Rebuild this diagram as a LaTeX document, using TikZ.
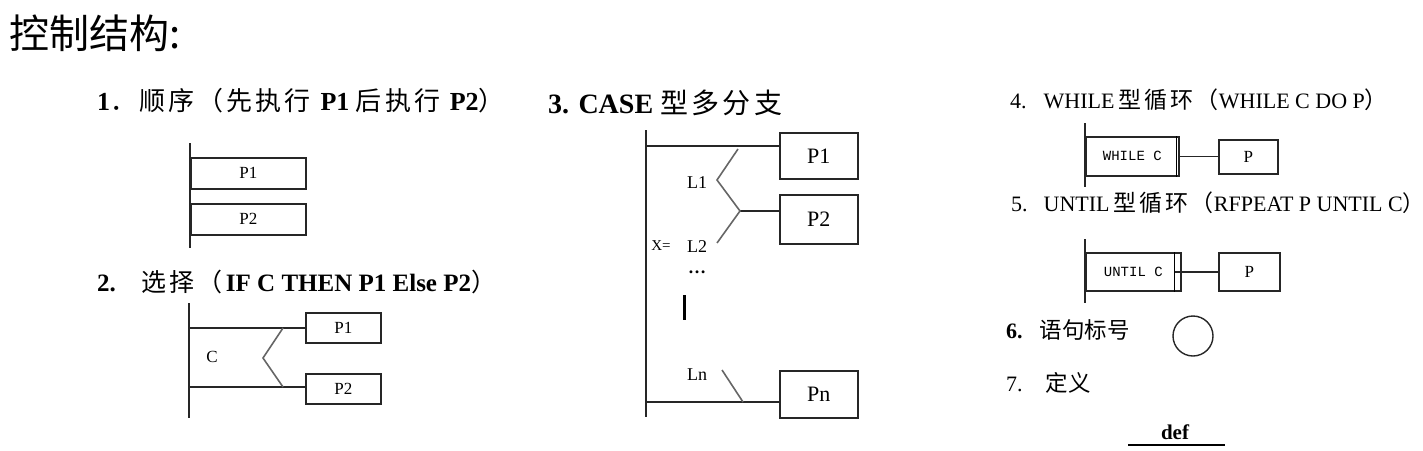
\documentclass[tikz,border=0pt]{standalone}
\usepackage{fontspec}
\setmainfont{Liberation Serif}
\setmonofont{Liberation Mono}
\newfontfamily\cjk{Noto Sans CJK SC}
\newfontfamily\cjks[LetterSpace=12]{Noto Sans CJK SC}
\newcommand\zh[2][]{{\cjks#1#2}}
\newcommand\fs[1]{\fontsize{#1}{#1}\selectfont}
\begin{document}
\begin{tikzpicture}[x=1pt,y=-1pt,
  ln/.style={line width=1.6pt, draw=black!85},
  zz/.style={line width=1.6pt, draw=black!60},
  pbox/.style={draw=black!85, line width=1.6pt, inner sep=0pt, anchor=north west, font=\fs{17}},
  bigbox/.style={pbox, font=\fs{22}},
  head/.style={anchor=west, inner sep=0pt},
  lab/.style={inner sep=0pt, font=\fs{17}}]
\useasboundingbox (0,0) rectangle (1423,450);

% title
\node[head, font=\fs{40}\cjk] (title) at (9,33) {控制结构:};

% 1 sequence
\node[head, font=\fs{26}] (h1) at (97,101) {\textbf{1}\zh{．顺序（先执行} \textbf{P1} \zh{后执行} \textbf{P2}{\cjk ）}};
\coordinate (s1t) at (190,143);
\coordinate (s1b) at (190,248);
\draw[ln] (s1t) -- (s1b);
\node[pbox, minimum width=115pt, minimum height=31pt] (a1) at (190,157) {P1};
\node[pbox, minimum width=115pt, minimum height=31pt] (a2) at (190,203) {P2};

% 2 selection
\node[head, font=\fs{25}] (h2) at (97,282) {\textbf{2.}\hspace{26pt}\zh{选择（}\textbf{IF C THEN P1 Else P2}{\cjk ）}};
\coordinate (s2t) at (189,303);
\coordinate (s2b) at (189,418);
\draw[ln] (s2t) -- (s2b);
\node[pbox, minimum width=75pt, minimum height=30pt] (b1) at (305,312) {P1};
\node[pbox, minimum width=75pt, minimum height=30pt] (b2) at (305,373) {P2};
\coordinate (b1s) at (189,328);
\coordinate (b2s) at (189,387);
\draw[ln] (b1s) -- (b1s -| b1.west);
\draw[ln] (b2s) -- (b2s -| b2.west);
\coordinate (z1) at (283,328);
\coordinate (z2) at (263,358);
\coordinate (z3) at (283,387);
\draw[zz] (z1) -- (z2) -- (z3);
\node[lab] (c) at (212,357) {C};

% 3 case
\node[head, font=\fs{28}] (h3) at (548,103) {\textbf{3. CASE} \zh{型多分支}};
\coordinate (s3t) at (646,130);
\coordinate (s3b) at (646,417);
\draw[ln] (s3t) -- (s3b);
\node[bigbox, minimum width=78pt, minimum height=46pt] (c1) at (779,132) {P1};
\node[bigbox, minimum width=78pt, minimum height=49pt] (c2) at (779,194) {P2};
\node[bigbox, minimum width=78pt, minimum height=47pt] (cn) at (779,370) {Pn};
\coordinate (c1s) at (646,146);
\coordinate (cns) at (646,402);
\coordinate (y1) at (740,211);
\draw[ln] (c1s) -- (c1s -| c1.west);
\draw[ln] (cns) -- (cns -| cn.west);
\draw[ln] (y1) -- (y1 -| c2.west);
\coordinate (w1) at (738,149);
\coordinate (w2) at (717,180);
\coordinate (w3) at (717,243);
\draw[zz] (w1) -- (w2) -- (y1) -- (w3);
\coordinate (v1) at (722,370);
\coordinate (v2) at (743,402);
\draw[zz] (v1) -- (v2);
\node[lab, font=\fs{18}] (l1) at (697,183) {L1};
\node[lab, font=\fs{15}] (xeq) at (661,246) {X=};
\node[lab, font=\fs{18}] (l2) at (697,247) {L2};
\node[lab, font=\fs{18}] (dots) at (697,272) {\textbf{\dots}};
\coordinate (bar1) at (684,295);
\coordinate (bar2) at (684,320);
\draw[line width=3pt] (bar1) -- (bar2);
\node[lab, font=\fs{18}] (lnn) at (697,375) {Ln};

% 4 while
\node[head, font=\fs{22}] (h4) at (1010,100) {4.\hspace{17pt}WHILE\hspace{4pt}\zh[\fs{23}]{型循环（}WHILE C DO P{\cjk\fs{23}）}};
\coordinate (s4t) at (1085,123);
\coordinate (s4b) at (1085,187);
\draw[ln] (s4t) -- (s4b);
\node[pbox, minimum width=93pt, minimum height=39pt, font=\fs{14}\ttfamily] (wc) at (1085,136) {WHILE C};
\draw[line width=1.2pt] ([xshift=-3.5pt]wc.north east) -- ([xshift=-3.5pt]wc.south east);
\node[pbox, minimum width=59pt, minimum height=34pt] (wp) at (1218,139) {P};
\draw[ln] (wc.east) -- (wc.east -| wp.west);

% 5 until
\node[head, font=\fs{22}] (h5) at (1011,203) {5.\hspace{16pt}UNTIL\hspace{4pt}\zh[\fs{23}]{型循环（}RFPEAT P UNTIL C{\cjk\fs{22}）}\hspace{-12pt}};
\coordinate (s5t) at (1085,239);
\coordinate (s5b) at (1085,303);
\draw[ln] (s5t) -- (s5b);
\node[pbox, minimum width=95pt, minimum height=38pt, font=\fs{14}\ttfamily] (uc) at (1085,252) {UNTIL C};
\draw[line width=1.2pt] ([xshift=-7pt]uc.north east) -- ([xshift=-7pt]uc.south east);
\node[pbox, minimum width=61pt, minimum height=38pt] (up) at (1218,252) {P};
\draw[ln] ([xshift=-7pt]uc.east) -- (up.west);

% 6 label
\node[head, font=\fs{22}] (h6) at (1006,330) {\textbf{6.}\hspace{17pt}{\cjk\fs{22.5}语句标号}};
\node[draw=black!85, line width=1.4pt, circle, minimum size=40pt, inner sep=0pt] (circ) at (1193,336) {};

% 7 def
\node[head, font=\fs{22}] (h7) at (1006,383) {7.\hspace{23pt}{\cjk\fs{22.5}定义}};
\node[inner sep=0pt, font=\fs{21}\bfseries] (def) at (1175,432) {def};
\coordinate (d1) at (1128,445);
\coordinate (d2) at (1225,445);
\draw[line width=1.4pt] (d1) -- (d2);
\end{tikzpicture}
\end{document}
